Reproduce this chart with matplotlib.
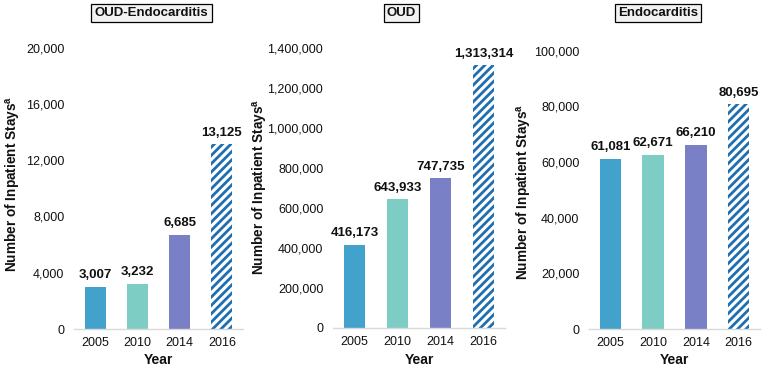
import matplotlib
matplotlib.use('Agg')
import matplotlib.pyplot as plt
from matplotlib.ticker import FuncFormatter

plt.rcParams['font.family'] = ['Liberation Sans', 'DejaVu Sans']
plt.rcParams['hatch.linewidth'] = 2.0

# data
years = ['2005', '2010', '2014', '2016']
oud_endo = [3007, 3232, 6685, 13125]
oud = [416173, 643933, 747735, 1313314]
endo = [61081, 62671, 66210, 80695]

panel_titles = ['OUD-Endocarditis', 'OUD', 'Endocarditis']
y_max = [20000, 1400000, 100000]
y_step = [4000, 200000, 20000]

bar_colors = ['#42A2CB', '#7DCDC4', '#7A80C5', 'white']
hatch_blue = '#1F6FB0'

fig = plt.figure(figsize=(7.73, 3.71), dpi=100)

rects = [
    [74 / 773, 42 / 371, 169 / 773, 281.3 / 371],
    [333 / 773, 43 / 371, 172 / 773, 280 / 371],
    [589 / 773, 42 / 371, 171 / 773, 278.3 / 371],
]
ylabel_pos = [(13.5, 184), (260, 187), (525, 192)]
title_pos = [(151.5, 13), (401.5, 13), (658, 13)]

fmt = FuncFormatter(lambda v, p: f'{int(v):,}')

for i, values in enumerate([oud_endo, oud, endo]):
    ax = fig.add_axes(rects[i])
    x = range(len(years))
    bars = ax.bar(x, values, width=0.5, color=bar_colors, linewidth=0)
    # 2016 is hatched
    bars[3].set_hatch('////')
    bars[3].set_edgecolor(hatch_blue)

    for xi, v in zip(x, values):
        ax.annotate(f'{v:,}', (xi, v), xytext=(0, 4), textcoords='offset points',
                    ha='center', va='bottom', fontsize=9.5, fontweight='bold',
                    color='#111111')

    ax.set_xlim(-0.5, 3.5)
    ax.set_ylim(0, y_max[i])
    ax.set_yticks(range(0, y_max[i] + 1, y_step[i]))
    ax.yaxis.set_major_formatter(fmt)
    ax.set_xticks(list(x))
    ax.set_xticklabels(years)
    ax.tick_params(axis='y', length=0, pad=7, labelsize=9, labelcolor='#111111')
    ax.tick_params(axis='x', length=0, pad=6, labelsize=9, labelcolor='#111111')
    for s in ['top', 'right', 'left']:
        ax.spines[s].set_visible(False)
    ax.spines['bottom'].set_color('#D9D9D9')
    ax.spines['bottom'].set_linewidth(1)
    ax.set_xlabel('Year', fontsize=10, fontweight='bold', labelpad=3, color='#111111')

    fig.text(ylabel_pos[i][0] / 773, 1 - ylabel_pos[i][1] / 371,
             r'Number of Inpatient Stays$^\mathregular{a}$',
             rotation=90, ha='center', va='center', fontsize=9.8, fontweight='bold',
             color='#111111')

    fig.text(title_pos[i][0] / 773, 1 - title_pos[i][1] / 371, panel_titles[i],
             ha='center', va='center', fontsize=9.5, fontweight='bold', color='#111111',
             bbox=dict(boxstyle='square,pad=0.25', facecolor='#F2F2F2',
                       edgecolor='black', linewidth=0.9))

fig.savefig('out.png', dpi=100, facecolor='white')
